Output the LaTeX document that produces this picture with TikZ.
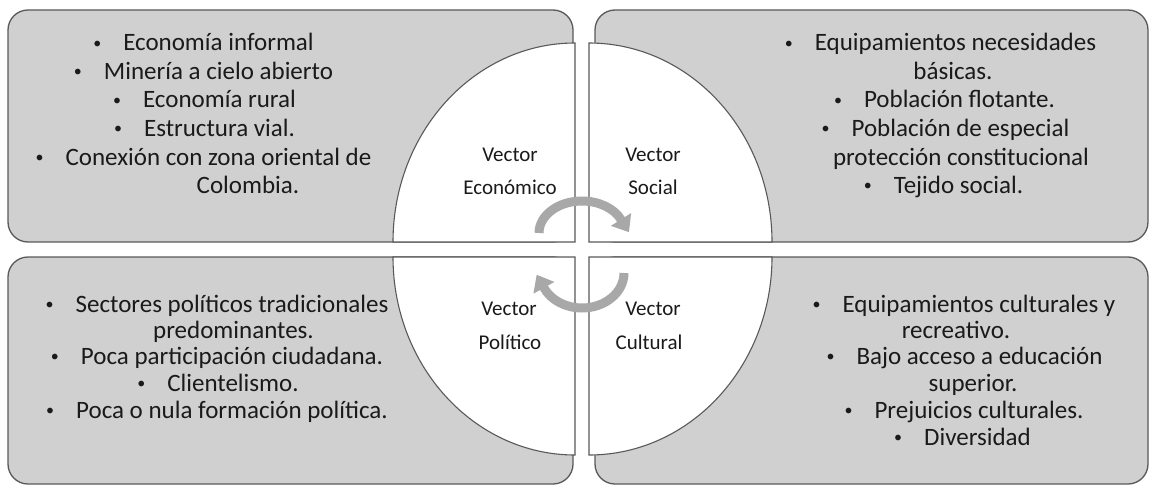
\documentclass[tikz,border=0pt]{standalone}
\usepackage{fontspec}
\setmainfont{Carlito}
\usetikzlibrary{arrows.meta}
\definecolor{boxfill}{HTML}{D0D0D0}
\definecolor{edgegrey}{HTML}{595959}
\definecolor{arrowgrey}{HTML}{A8A8A8}
\definecolor{ink}{HTML}{1A1A1A}
\newcommand{\blt}{\makebox[31pt][l]{\hspace*{1pt}\raisebox{2.5pt}{\fontsize{16}{16}\selectfont •}}}
\begin{document}
\begin{tikzpicture}[x=1pt,y=-1pt,
  panel/.style={draw=edgegrey, line width=1.3pt, fill=boxfill, rounded corners=20pt},
  quad/.style={draw=edgegrey, line width=1.1pt, fill=white},
  cyc/.style={draw=arrowgrey, line width=9pt, -{Triangle[length=15pt,width=23pt]}},
  item/.style={anchor=base, inner sep=0pt, text=ink, font=\fontsize{25}{28}\selectfont},
  vlabel/.style={anchor=base, inner sep=0pt, text=ink, font=\fontsize{21}{24}\selectfont}]
\useasboundingbox (0,0) rectangle (1151,487);
% panels
\draw[panel] (8,10) rectangle (573,242);
\draw[panel] (595,10) rectangle (1148,242);
\draw[panel] (8,257) rectangle (573,484);
\draw[panel] (595,257) rectangle (1148,484);
% quadrants
\draw[quad] (575,242) -- (393,242) arc[start angle=180, end angle=270, x radius=182, y radius=199] -- cycle;
\draw[quad] (589,242) -- (589,43) arc[start angle=270, end angle=360, x radius=183, y radius=199] -- cycle;
\draw[quad] (575,257) -- (393,257) arc[start angle=180, end angle=90, x radius=182, y radius=198] -- cycle;
\draw[quad] (589,257) -- (589,455) arc[start angle=90, end angle=0, x radius=183, y radius=198] -- cycle;
% cycle arrows
\draw[cyc] (539,233) arc[start angle=180, end angle=335, x radius=43, y radius=32] -- ++(8,12.7);
\draw[cyc] (624,273) arc[start angle=0, end angle=155, x radius=42, y radius=35] -- ++(-7.3,-13.1);
% vector labels
\node[vlabel] (eco1) at (510,161) {Vector};
\node[vlabel] (eco2) at (510,194) {Económico};
\node[vlabel] (soc1) at (653,161) {Vector};
\node[vlabel] (soc2) at (653,194) {Social};
\node[vlabel] (pol1) at (509,315) {Vector};
\node[vlabel] (pol2) at (510,349) {Político};
\node[vlabel] (cul1) at (653,315) {Vector};
\node[vlabel] (cul2) at (649,349) {Cultural};
% top-left text
\node[item] (tl1) at (203,50.6) {\blt Economía informal};
\node[item] (tl2) at (203,79) {\blt Minería a cielo abierto};
\node[item] (tl3) at (204,107.6) {\blt Economía rural};
\node[item] (tl4) at (204,136) {\blt Estructura vial.};
\node[item] (tl5) at (203,165) {\blt Conexión con zona oriental de};
\node[item] (tl6) at (248,193) {Colombia.};
% top-right text
\node[item] (tr1) at (940,50.6) {\blt Equipamientos necesidades};
\node[item] (tr2) at (953,79) {básicas.};
\node[item] (tr3) at (944,107.6) {\blt Población flotante.};
\node[item] (tr4) at (945,136) {\blt Población de especial};
\node[item] (tr5) at (961,165) {protección constitucional};
\node[item] (tr6) at (943,193) {\blt Tejido social.};
% bottom-left text
\node[item] (bl1) at (216.5,312) {\blt Sectores políticos tradicionales};
\node[item] (bl2) at (233.5,338) {predominantes.};
\node[item] (bl3) at (216.5,364) {\blt Poca participación ciudadana.};
\node[item] (bl4) at (217.5,391) {\blt Clientelismo.};
\node[item] (bl5) at (216.5,418) {\blt Poca o nula formación política.};
% bottom-right text
\node[item] (br1) at (963.5,312) {\blt Equipamientos culturales y};
\node[item] (br2) at (956,338) {recreativo.};
\node[item] (br3) at (964,364) {\blt Bajo acceso a educación};
\node[item] (br4) at (973,391) {superior.};
\node[item] (br5) at (963.5,418) {\blt Prejuicios culturales.};
\node[item] (br6) at (962,445) {\blt Diversidad};
\end{tikzpicture}
\end{document}
